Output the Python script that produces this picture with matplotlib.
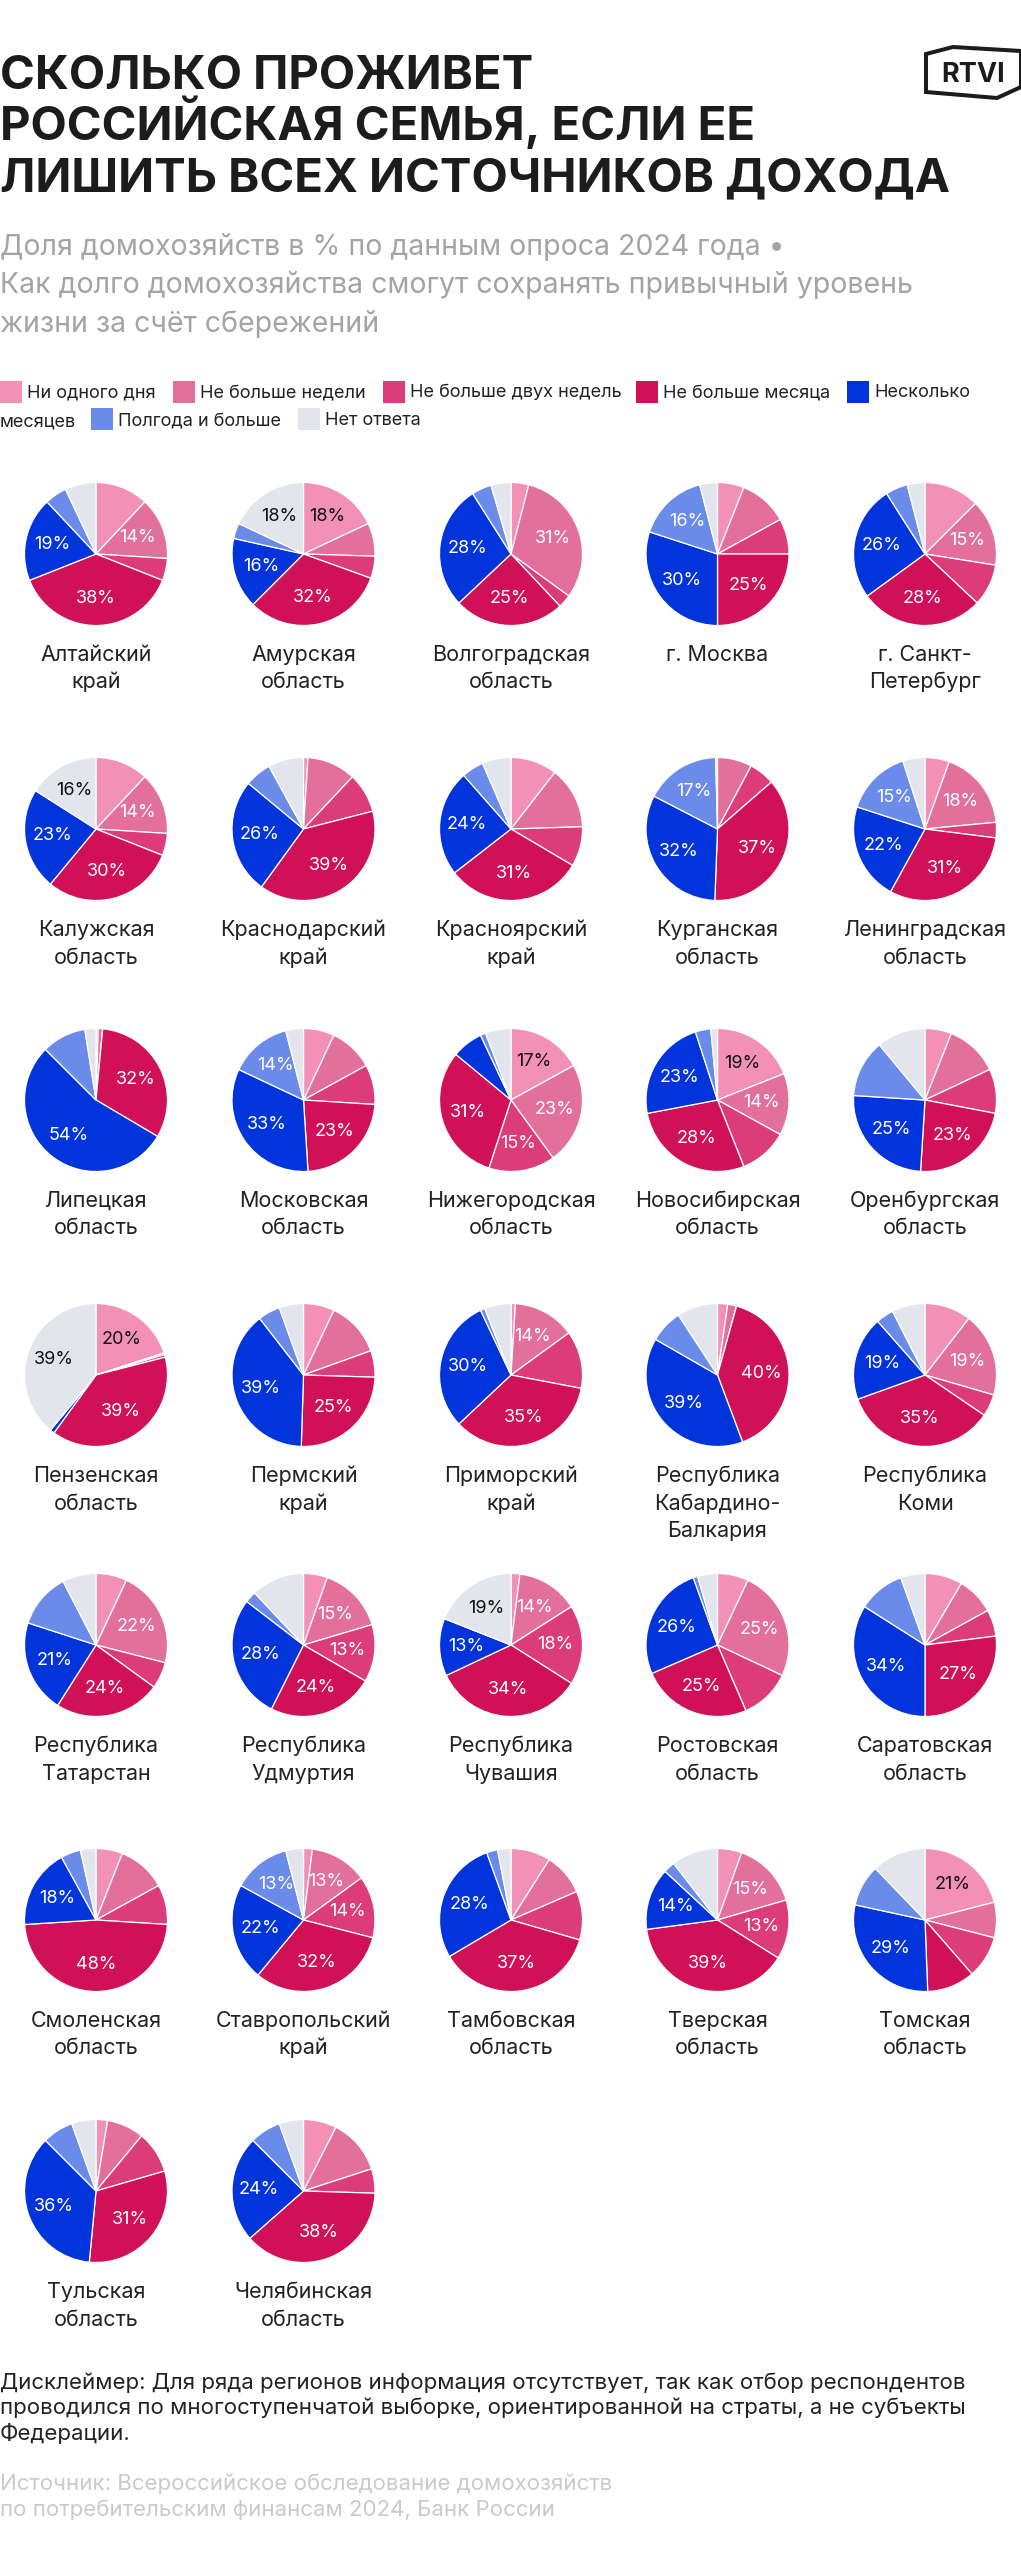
import matplotlib
matplotlib.use("Agg")
import matplotlib.pyplot as plt
from matplotlib.patches import Polygon, Rectangle

W, H = 1021, 2560
FONT = ["Inter", "DejaVu Sans"]
plt.rcParams["font.family"] = FONT

title_lines = ["СКОЛЬКО ПРОЖИВЕТ", "РОССИЙСКАЯ СЕМЬЯ, ЕСЛИ ЕЕ", "ЛИШИТЬ ВСЕХ ИСТОЧНИКОВ ДОХОДА"]
subtitle_lines = ["Доля домохозяйств в % по данным опроса 2024 года •",
                  "Как долго домохозяйства смогут сохранять привычный уровень",
                  "жизни за счёт сбережений"]
disclaimer_lines = ["Дисклеймер: Для ряда регионов информация отсутствует, так как отбор респондентов",
                    "проводился по многоступенчатой выборке, ориентированной на страты, а не субъекты",
                    "Федерации."]
source_lines = ["Источник: Всероссийское обследование домохозяйств",
                "по потребительским финансам 2024, Банк России"]

categories = ["Ни одного дня", "Не больше недели", "Не больше двух недель", "Не больше месяца",
              "Несколько месяцев", "Полгода и больше", "Нет ответа"]
colors = ["#f291b5", "#e2709b", "#dc3d79", "#d01057", "#0234dc", "#6a8bea", "#e3e5ec"]

regions = ["Алтайский\nкрай", "Амурская\nобласть", "Волгоградская\nобласть", "г. Москва", "г. Санкт-\nПетербург",
           "Калужская\nобласть", "Краснодарский\nкрай", "Красноярский\nкрай", "Курганская\nобласть", "Ленинградская\nобласть",
           "Липецкая\nобласть", "Московская\nобласть", "Нижегородская\nобласть", "Новосибирская\nобласть", "Оренбургская\nобласть",
           "Пензенская\nобласть", "Пермский\nкрай", "Приморский\nкрай", "Республика\nКабардино-\nБалкария", "Республика\nКоми",
           "Республика\nТатарстан", "Республика\nУдмуртия", "Республика\nЧувашия", "Ростовская\nобласть", "Саратовская\nобласть",
           "Смоленская\nобласть", "Ставропольский\nкрай", "Тамбовская\nобласть", "Тверская\nобласть", "Томская\nобласть",
           "Тульская\nобласть", "Челябинская\nобласть"]

altai = [12, 14, 5, 38, 19, 5, 7]
amur = [18, 7.5, 5, 32, 16, 3.5, 18]
volgograd = [4, 31, 3, 25, 28, 4.5, 4.5]
moscow = [6, 11, 8, 25, 30, 16, 4]
spb = [12.5, 15, 9.5, 28, 26, 5, 4]
kaluga = [12, 14, 5, 30, 23, 0, 16]
krasnodar = [1, 11, 9, 39, 26, 6, 8]
krasnoyarsk = [10.5, 14, 9, 31, 24, 5, 6.5]
kurgan = [0, 7.8, 5.8, 37, 32, 17, 0.4]
leningrad = [5.5, 18, 3.5, 31, 22, 15, 5]
lipetsk = [0.5, 1, 0, 32, 54, 10, 2.5]
moscow_obl = [7, 10, 9, 23, 33, 14, 4]
nizhny = [17, 23, 15, 31, 7, 1.2, 5.8]
novosibirsk = [19, 14, 11, 28, 23, 3.5, 1.5]
orenburg = [6, 12, 10, 23, 25, 13, 11]
penza = [20, 0.4, 0.6, 39, 1, 0, 39]
perm = [7, 12.5, 6, 25, 39, 5, 5.5]
primorsky = [1, 14, 13, 35, 30, 1, 6]
kbr = [2.3, 2, 0, 40, 39, 7.5, 9.2]
komi = [10.5, 19, 5, 35, 19, 4, 7.5]
tatarstan = [7, 22, 6, 24, 21, 12.4, 7.6]
udmurtia = [5.4, 15, 13, 24, 28, 2.6, 12]
chuvashia = [2, 14, 18, 34, 13, 0, 19]
rostov = [7, 25, 11.5, 25, 26, 1, 4.5]
saratov = [8.5, 8.5, 6, 27, 34, 10.5, 5.5]
smolensk = [6, 11, 9, 48, 18, 4.5, 3.5]
stavropol = [2, 13, 14, 32, 22, 13, 4]
tambov = [9, 9.5, 11, 37, 28, 2.5, 3]
tver = [5.5, 15, 13.4, 39, 14, 2.6, 10.5]
tomsk = [21, 8, 9.6, 10.8, 29, 9.4, 12.2]
tula = [2.6, 8.4, 9.5, 31, 36, 7, 5.5]
chelyabinsk = [7.5, 12.5, 5.5, 38, 24, 7, 5.5]

series = [altai, amur, volgograd, moscow, spb, kaluga, krasnodar, krasnoyarsk, kurgan, leningrad,
          lipetsk, moscow_obl, nizhny, novosibirsk, orenburg, penza, perm, primorsky, kbr, komi,
          tatarstan, udmurtia, chuvashia, rostov, saratov, smolensk, stavropol, tambov, tver, tomsk,
          tula, chelyabinsk]

# indices of the slices that carry a percentage label in each pie
labelled = [(1, 3, 4), (0, 3, 4, 6), (1, 3, 4), (3, 4, 5), (1, 3, 4),
            (1, 3, 4, 6), (3, 4), (3, 4), (3, 4, 5), (1, 3, 4, 5),
            (3, 4), (3, 4, 5), (0, 1, 2, 3), (0, 1, 3, 4), (3, 4),
            (0, 3, 6), (3, 4), (1, 3, 4), (3, 4), (1, 3, 4),
            (1, 3, 4), (1, 2, 3, 4), (1, 2, 3, 4, 6), (1, 3, 4), (3, 4),
            (3, 4), (1, 2, 3, 4, 5), (3, 4), (1, 2, 3, 4), (0, 4),
            (3, 4), (3, 4)]

fig = plt.figure(figsize=(W / 100, H / 100), dpi=100, facecolor="white")


def txt(x, y, s, **kw):
    kw.setdefault("va", "baseline")
    return fig.text(x / W, 1 - y / H, s, **kw)


for y, s in zip([89, 140, 191], title_lines):
    txt(0, y, s, fontsize=34, fontweight="bold", color="#1c1c1c")
for y, s in zip([255, 293, 332], subtitle_lines):
    txt(0, y, s, fontsize=20.5, color="#a3a3a8")

bg = fig.add_axes([0, 0, 1, 1], zorder=0)
bg.set_xlim(0, W)
bg.set_ylim(H, 0)
bg.axis("off")

legend_items = [(0, 381, 0), (172.5, 381, 1), (383, 381, 2), (636, 381, 3), (847, 381, 4),
                (91, 408, 5), (298, 408, 6)]
LEG = 13.05
for x, y, i in legend_items:
    bg.add_patch(Rectangle((x, y), 22, 22, color=colors[i], lw=0))
    label = categories[i]
    if i == 4:
        first, second = label.split(" ")
        txt(x + 27, y + 16, first, fontsize=LEG, color="#222222")
        txt(0, y + 45, second, fontsize=LEG, color="#222222")
    else:
        txt(x + 27, y + 17 if y > 400 else y + 16, label, fontsize=LEG, color="#222222")

# logo
logo = Polygon([(926, 54), (953, 47), (1021, 51), (1021, 87), (997, 98), (926, 92)],
               closed=True, fill=False, edgecolor="#1c1c1c", lw=2.9, joinstyle="miter", clip_on=False)
bg.add_patch(logo)
txt(973.5, 82, "RTVI", fontsize=19.5, fontweight="bold", color="#1c1c1c", ha="center")

col_x = [96, 303.5, 511, 717.5, 925]
row_y = [554, 829, 1100, 1375, 1645, 1920, 2191]
R = 71.5
PAD = 3

for n, (name, vals, lab) in enumerate(zip(regions, series, labelled)):
    row, col = divmod(n, 5)
    cx, cy = col_x[col], row_y[row]
    side = 2 * (R + PAD)
    ax = fig.add_axes([(cx - R - PAD) / W, 1 - (cy + R + PAD) / H, side / W, side / H], zorder=2)
    wedges, _, auto = ax.pie(vals, colors=colors, startangle=90, counterclock=False, radius=1,
                             wedgeprops=dict(edgecolor="white", linewidth=0.9),
                             autopct=lambda p: f"{p:.0f}%", pctdistance=0.62,
                             textprops=dict(fontsize=13))
    ax.set_xlim(-(R + PAD) / R, (R + PAD) / R)
    ax.set_ylim(-(R + PAD) / R, (R + PAD) / R)
    for i, t in enumerate(auto):
        if i in lab:
            t.set_color("#111111" if i in (0, 6) else "white")
        else:
            t.set_text("")
    for k, line in enumerate(name.split("\n")):
        txt(cx, cy + 107 + 27.5 * k, line, fontsize=15.5, color="#222222", ha="center")

for y, s in zip([2389, 2414.5, 2440], disclaimer_lines):
    txt(0, y, s, fontsize=16, color="#222222")
for y, s in zip([2490, 2516], source_lines):
    txt(0, y, s, fontsize=16, color="#c9cacd")

fig.savefig("out.png", dpi=100, facecolor="white")
